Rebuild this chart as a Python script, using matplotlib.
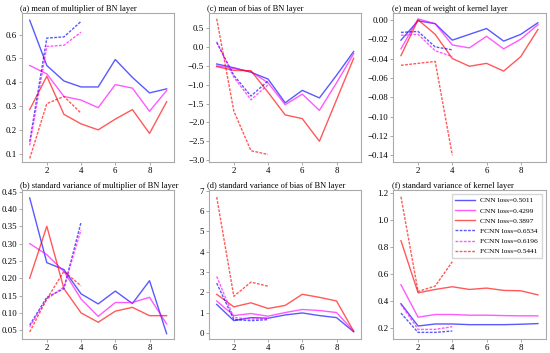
import matplotlib
matplotlib.use("Agg")
import matplotlib.pyplot as plt

plt.rcParams['font.family'] = ['Liberation Serif', 'DejaVu Serif']

x_cnn = [1, 2, 3, 4, 5, 6, 7, 8, 9]
x_fcnn = [1, 2, 3, 4]

labels = ["CNN loss=0.5011", "CNN loss=0.4299", "CNN loss=0.3897",
          "FCNN loss=0.6534", "FCNN loss=0.6196", "FCNN loss=0.5441"]
colors = ["blue", "magenta", "red"]

titles = ["(a) mean of multiplier of BN layer",
          "(c) mean of bias of BN layer",
          "(e) mean of weight of kernel layer",
          "(b) standard variance of multiplier of BN layer",
          "(d) standard variance of bias of BN layer",
          "(f) standard variance of kernel layer"]

# (a)
a_cnn = [[0.66, 0.47, 0.405, 0.38, 0.38, 0.495, 0.42, 0.355, 0.372],
         [0.47, 0.435, 0.34, 0.325, 0.293, 0.39, 0.375, 0.278, 0.365],
         [0.285, 0.425, 0.265, 0.225, 0.2, 0.245, 0.285, 0.185, 0.318]]
a_fcnn = [[0.15, 0.585, 0.59, 0.655],
          [0.135, 0.55, 0.555, 0.61],
          [0.08, 0.31, 0.34, 0.27]]
# (c)
c_cnn = [[-0.45, -0.55, -0.67, -0.85, -1.48, -1.15, -1.35, -0.75, -0.12],
         [-0.5, -0.57, -0.65, -0.95, -1.53, -1.25, -1.68, -0.95, -0.18],
         [-0.52, -0.62, -0.63, -1.2, -1.8, -1.9, -2.5, -1.4, -0.3]]
c_fcnn = [[0.12, -0.75, -1.3, -0.9],
          [0.14, -0.8, -1.4, -1.0],
          [0.75, -1.7, -2.75, -2.85]]
# (e)
e_cnn = [[-0.021, -0.001, -0.004, -0.021, -0.015, -0.009, -0.022, -0.015, -0.003],
         [-0.03, 0.001, -0.004, -0.026, -0.029, -0.017, -0.03, -0.02, -0.005],
         [-0.037, 0.0, -0.015, -0.04, -0.048, -0.045, -0.053, -0.038, -0.01]]
e_fcnn = [[-0.013, -0.012, -0.028, -0.031],
          [-0.016, -0.015, -0.032, -0.038],
          [-0.047, -0.045, -0.043, -0.14]]
# (b)
b_cnn = [[0.432, 0.245, 0.225, 0.155, 0.126, 0.163, 0.127, 0.193, 0.04],
         [0.3, 0.268, 0.22, 0.14, 0.09, 0.13, 0.13, 0.145, 0.068],
         [0.2, 0.35, 0.17, 0.1, 0.073, 0.105, 0.116, 0.092, 0.092]]
b_fcnn = [[0.065, 0.145, 0.17, 0.362],
          [0.06, 0.14, 0.175, 0.34],
          [0.045, 0.14, 0.22, 0.178]]
# (d)
d_cnn = [[1.4, 0.6, 0.75, 0.72, 0.88, 0.98, 0.85, 0.75, 0.05],
         [1.57, 0.85, 0.95, 0.82, 1.0, 1.15, 1.1, 1.0, 0.08],
         [1.9, 1.28, 1.48, 1.2, 1.35, 1.9, 1.75, 1.57, 0.08]]
d_fcnn = [[2.45, 0.65, 0.6, 0.65],
          [2.78, 0.75, 0.68, 0.7],
          [6.7, 1.8, 2.5, 2.3]]
# (f)
f_cnn = [[0.38, 0.215, 0.23, 0.23, 0.225, 0.225, 0.225, 0.228, 0.233],
         [0.52, 0.28, 0.3, 0.3, 0.295, 0.295, 0.292, 0.29, 0.29],
         [0.845, 0.46, 0.485, 0.505, 0.485, 0.495, 0.478, 0.475, 0.445]]
f_fcnn = [[0.31, 0.168, 0.168, 0.178],
          [0.375, 0.19, 0.19, 0.21],
          [1.17, 0.47, 0.51, 0.69]]

panels = [(a_cnn, a_fcnn), (c_cnn, c_fcnn), (e_cnn, e_fcnn),
          (b_cnn, b_fcnn), (d_cnn, d_fcnn), (f_cnn, f_fcnn)]

fig = plt.figure(figsize=(5.5, 3.53), dpi=100)
lefts = [0.040, 0.380, 0.715]
w = 0.277
bottoms = [0.541, 0.040]
h = 0.422

axes = []
for r in range(2):
    for c in range(3):
        axes.append(fig.add_axes([lefts[c], bottoms[r], w, h]))

for i, ax in enumerate(axes):
    cnn, fcnn = panels[i]
    for k in range(3):
        ax.plot(x_cnn, cnn[k], color=colors[k], alpha=0.65, lw=1.0,
                label=labels[k])
    for k in range(3):
        ax.plot(x_fcnn, fcnn[k], color=colors[k], alpha=0.65, lw=1.0,
                linestyle=(0, (2, 1)), label=labels[3 + k])
    ax.set_title(titles[i], loc='left', fontsize=6.0, pad=1.5, x=-0.01)
    ax.set_xticks([2, 4, 6, 8])
    ax.tick_params(labelsize=6.4, length=2, width=0.5, color='#888888', pad=1.5)
    for s in ax.spines.values():
        s.set_color('#aaaaaa')
        s.set_linewidth(0.8)
    ax.set_xlim(0.55, 9.45)

axes[0].set_ylim(0.065, 0.69)
axes[1].set_ylim(-3.05, 0.9)
axes[2].set_ylim(-0.147, 0.007)
axes[3].set_ylim(0.025, 0.455)
axes[4].set_ylim(-0.3, 7.05)
axes[5].set_ylim(0.12, 1.22)

axes[3].set_yticks([0.05, 0.10, 0.15, 0.20, 0.25, 0.30, 0.35, 0.40, 0.45])
axes[3].set_yticklabels(["0.05", "0.10", "0.15", "0.20", "0.25", "0.30", "0.35", "0.40", "0.45"])

axes[5].legend(loc='upper right', fontsize=5.3, frameon=True, handlelength=2.6,
               borderpad=0.5, labelspacing=0.55, handletextpad=0.8,
               edgecolor='#cccccc', fancybox=False)

fig.savefig("out.png", dpi=100)
